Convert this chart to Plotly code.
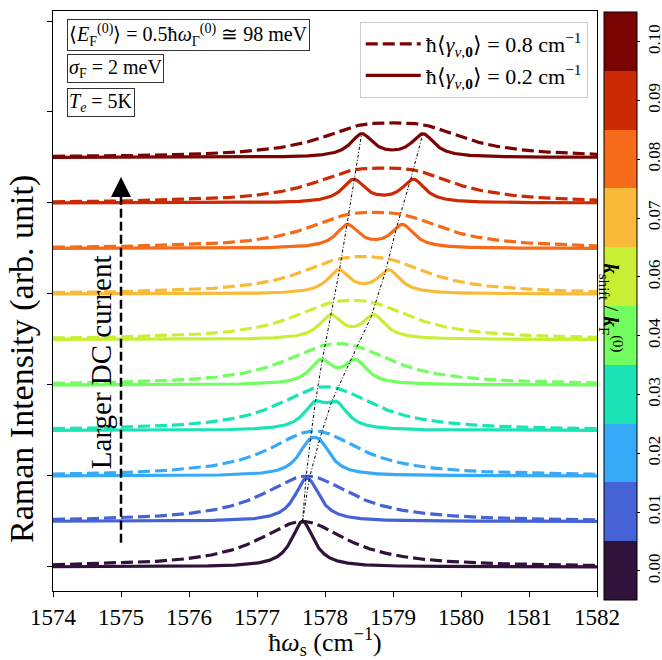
import numpy as np
import plotly.graph_objects as go

# ---------------- data ----------------
k_labels = ["0.00", "0.01", "0.02", "0.03", "0.04", "0.06", "0.07", "0.08", "0.09", "0.10"]
colors = ["#30123b", "#4662d7", "#36aaf9", "#1ae4b6", "#72fe5e",
          "#c8ef34", "#faba39", "#f66b19", "#cb2a04", "#7a0403"]
offsets = [0, 1, 2, 3, 4, 5, 6, 7, 8, 9]
# mode centres (cm^-1) of the two split phonon lines for each curve
omega_low = [1577.67, 1577.69, 1577.76, 1577.85, 1577.94, 1578.08, 1578.20, 1578.33, 1578.42, 1578.54]
omega_high = [1577.67, 1577.78, 1577.93, 1578.17, 1578.45, 1578.72, 1578.94, 1579.14, 1579.30, 1579.44]
gamma_dashed = 0.8   # cm^-1
gamma_solid = 0.2    # cm^-1

# guide lines through the peaks
guide_left_w = [1577.67, 1577.72, 1577.79, 1577.86, 1577.96, 1578.08, 1578.21, 1578.32, 1578.43, 1578.54]
guide_right_w = [1577.67, 1577.77, 1577.93, 1578.10, 1578.38, 1578.68, 1578.89, 1579.06, 1579.26, 1579.44]
guide_y = [1.0, 1.95, 2.85, 3.64, 4.55, 5.5, 6.5, 7.5, 8.52, 9.53]

x_ticks = [1574, 1575, 1576, 1577, 1578, 1579, 1580, 1581, 1582]
y_ticks = [0, 2, 4, 6, 8, 10, 12]

# ---------------- helpers ----------------
w = np.linspace(1574, 1582, 1601)


def spectrum(w1, w2, g):
    l1 = g**2 / ((w - w1) ** 2 + g**2)
    l2 = g**2 / ((w - w2) ** 2 + g**2)
    return 0.5 * l1 + 0.5 * l2


SERIF = "Liberation Serif"
fig = go.Figure()

for i in range(len(offsets)):
    is_top = i == len(offsets) - 1
    fig.add_trace(go.Scatter(
        x=w, y=offsets[i] + spectrum(omega_low[i], omega_high[i], gamma_solid),
        mode="lines", line=dict(color=colors[i], width=3.2),
        name="ħ⟨<i>γ</i><sub><i>ν</i>,<b>0</b></sub>⟩ = 0.2 cm<sup>−1</sup>",
        showlegend=is_top, legendrank=2, hoverinfo="skip"))
    fig.add_trace(go.Scatter(
        x=w, y=offsets[i] + spectrum(omega_low[i], omega_high[i], gamma_dashed),
        mode="lines", line=dict(color=colors[i], width=3.2, dash="12px,5px"),
        name="ħ⟨<i>γ</i><sub><i>ν</i>,<b>0</b></sub>⟩ = 0.8 cm<sup>−1</sup>",
        showlegend=is_top, legendrank=1, hoverinfo="skip"))

for gw in (guide_left_w, guide_right_w):
    fig.add_trace(go.Scatter(
        x=gw, y=guide_y, mode="lines",
        line=dict(color="black", width=1, dash="3px,2px,1px,2px"),
        showlegend=False, hoverinfo="skip"))

# arrow "Larger DC current"
arrow_x = [1575, 1575]
arrow_y = [0.53, 8.3]
fig.add_trace(go.Scatter(
    x=arrow_x, y=arrow_y, mode="lines",
    line=dict(color="black", width=2.5, dash="9px,4px"),
    showlegend=False, hoverinfo="skip"))
fig.add_annotation(x=1575, y=8.57, ax=1575, ay=8.3, axref="x", ayref="y",
                   xref="x", yref="y", text="", showarrow=True,
                   arrowhead=2, arrowsize=1.6, arrowwidth=2.5, arrowcolor="black")
fig.add_annotation(x=1575, y=4.5, xref="x", yref="y", xshift=-20,
                   text="Larger DC current", showarrow=False, textangle=-90,
                   font=dict(family=SERIF, size=29, color="black"))

# colorbar
n = len(colors)
cscale = []
for i, c in enumerate(colors):
    cscale.append([i / n, c])
    cscale.append([(i + 1) / n, c])
fig.add_trace(go.Scatter(
    x=[None], y=[None], mode="markers", showlegend=False, hoverinfo="skip",
    marker=dict(color=list(range(n)), colorscale=cscale, cmin=-0.5, cmax=n - 0.5,
                showscale=True,
                colorbar=dict(
                    tickvals=list(range(n)), ticktext=k_labels, tickangle=-90,
                    ticks="outside", ticklen=3, tickcolor="black",
                    tickfont=dict(family=SERIF, size=17, color="black"),
                    thickness=33, thicknessmode="pixels",
                    len=588, lenmode="pixels",
                    x=1.0129, xanchor="left", xpad=0,
                    y=0.491, yanchor="middle", ypad=0,
                    outlinecolor="black", outlinewidth=1))))
fig.add_annotation(xref="paper", yref="paper", x=1.056, y=0.487,
                   text="<b><i>k</i></b><sub>shift</sub> / <b><i>k</i></b><sub>F</sub><sup>(0)</sup>",
                   showarrow=False, textangle=90,
                   font=dict(family=SERIF, size=21, color="black"))

# y-axis title (placed like the reference)
fig.add_annotation(xref="paper", yref="paper", x=-0.057, y=0.40,
                   xanchor="center", yanchor="middle",
                   text="Raman Intensity (arb. unit)", showarrow=False, textangle=-90,
                   font=dict(family=SERIF, size=34, color="black"))

# parameter boxes
boxes = [
    ("⟨<i>E</i><sub>F</sub><sup>(0)</sup>⟩ = 0.5ħ<i>ω</i><sub>Γ</sub><sup>(0)</sup> ≅ 98 meV", 0.986),
    ("<i>σ</i><sub>F</sub> = 2 meV", 0.925),
    ("<i>T<sub>e</sub></i> = 5K", 0.867),
]
for txt, yy in boxes:
    fig.add_annotation(xref="paper", yref="paper", x=0.026, y=yy,
                       xanchor="left", yanchor="top", text=txt, showarrow=False,
                       bordercolor="#333333", borderwidth=1, borderpad=1,
                       bgcolor="white", align="left",
                       font=dict(family=SERIF, size=20, color="black"))

fig.update_layout(
    width=662, height=660,
    margin=dict(l=53, r=65, t=11, b=69, autoexpand=False),
    plot_bgcolor="white", paper_bgcolor="white",
    font=dict(family=SERIF, color="black"),
    legend=dict(x=0.983, y=0.981, xanchor="right", yanchor="top",
                bgcolor="rgba(255,255,255,0.85)", bordercolor="#cccccc", borderwidth=1,
                font=dict(family=SERIF, size=22, color="black"),
                traceorder="normal", itemwidth=55),
    xaxis=dict(range=[1574, 1582], tickvals=x_ticks, ticks="outside", ticklen=5,
               tickcolor="black", showline=True, linecolor="black", linewidth=1,
               mirror=True, showgrid=False, zeroline=False,
               tickfont=dict(family=SERIF, size=23, color="black"),
               title=dict(text="ħ<i>ω</i><sub>s</sub> (cm<sup>−1</sup>)", standoff=10,
                          font=dict(family=SERIF, size=26, color="black"))),
    yaxis=dict(range=[-0.53, 12.22], tickvals=y_ticks, ticks="outside", ticklen=5,
               tickcolor="black", showticklabels=False, showline=True,
               linecolor="black", linewidth=1, mirror=True, showgrid=False,
               zeroline=False),
)

fig.write_html("out.html", config={"displayModeBar": False},
               post_script="document.body.style.margin='0px';")
